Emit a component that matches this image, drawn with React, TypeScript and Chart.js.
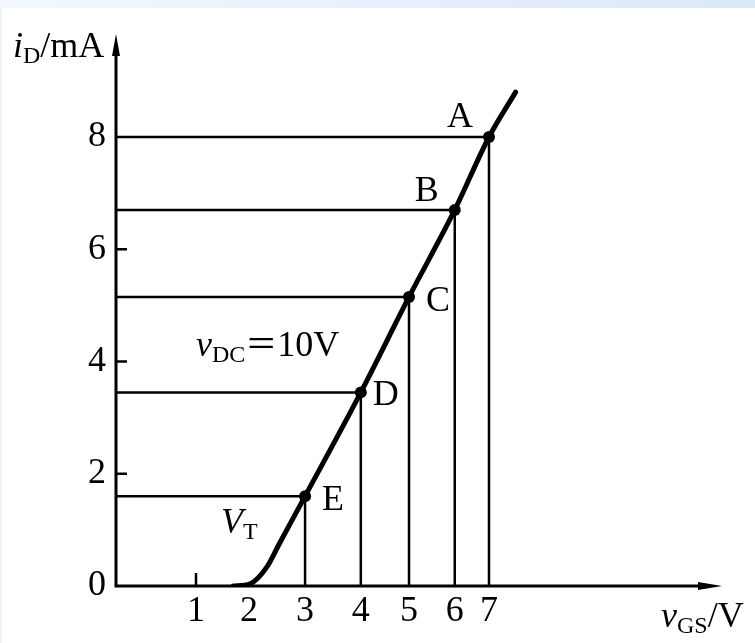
import React, { useEffect, useRef } from 'react';
import { Chart, LinearScale, registerables } from 'chart.js';

const SERIF = "'Liberation Serif', 'Times New Roman', serif";
const CJK = "'Noto Sans CJK SC', sans-serif";

// Operating points marked on the transfer characteristic
const pointNames = ['A', 'B', 'C', 'D', 'E'];
const pointVgs = [7, 6, 5, 4, 3];
const pointId = [8, 6.7, 5.15, 3.45, 1.6];

// Transfer curve i_D(v_GS), leaving the axis at the threshold V_T
const curveVgs = [1.7, 2.02, 2.32, 2.55, 3, 4, 5, 6, 7, 7.8];
const curveId = [0, 0.04, 0.34, 0.77, 1.6, 3.45, 5.15, 6.7, 8, 8.8];

// Axis tick labels and the short tick marks drawn inside the axes
const xTicks = [1, 2, 3, 4, 5, 6, 7];
const yTicks = [0, 2, 4, 6, 8];
const xMarks = [1];
const yMarks = [2, 4, 6];

// Linear scale whose value->pixel mapping is piecewise linear between knots
class PiecewiseScale extends LinearScale {
  static id = 'piecewise';
  static defaults = LinearScale.defaults;

  knotList(): number[][] {
    return (this.options as any).knots;
  }
  valueToDecimal(v: number): number {
    const k = this.knotList();
    let i = 1;
    while (i < k.length - 1 && v > k[i][0]) i++;
    const a = k[i - 1];
    const b = k[i];
    return a[1] + ((v - a[0]) * (b[1] - a[1])) / (b[0] - a[0]);
  }
  decimalToValue(d: number): number {
    const k = this.knotList();
    let i = 1;
    while (i < k.length - 1 && d > k[i][1]) i++;
    const a = k[i - 1];
    const b = k[i];
    return a[0] + ((d - a[1]) * (b[0] - a[0])) / (b[1] - a[1]);
  }
  getPixelForValue(value: number): number {
    if (value === null || value === undefined || isNaN(value)) return NaN;
    return this.getPixelForDecimal(this.valueToDecimal(value));
  }
  getValueForPixel(pixel: number): number {
    return this.decimalToValue(this.getDecimalForPixel(pixel));
  }
}

Chart.register(...registerables, PiecewiseScale);

type Run = { t: string; font: string; dy?: number };

function drawRuns(ctx: CanvasRenderingContext2D, x: number, y: number, runs: Run[]) {
  let cx = x;
  for (const r of runs) {
    ctx.font = r.font;
    ctx.fillText(r.t, cx, y + (r.dy || 0));
    cx += ctx.measureText(r.t).width;
  }
}

const MAIN = `36px ${SERIF}`;
const ITALIC = `italic 36px ${SERIF}`;
const SUB = `24px ${SERIF}`;

const labelOffsets: Record<string, [number, number]> = {
  A: [-29, -10],
  B: [-28, -9],
  C: [29, 14],
  D: [25, 13],
  E: [28, 14],
};

const decor = {
  id: 'decor',
  beforeDraw(chart: any) {
    const { ctx, width, height } = chart;
    ctx.save();
    ctx.fillStyle = '#ffffff';
    ctx.fillRect(0, 0, width, height);
    const g = ctx.createLinearGradient(0, 0, width, 0);
    g.addColorStop(0, '#f3f7fe');
    g.addColorStop(1, '#dbe8fa');
    ctx.fillStyle = g;
    ctx.fillRect(0, 0, width, 8);
    ctx.fillStyle = '#edf3fd';
    ctx.fillRect(0, 8, 2, height - 8);
    ctx.restore();
  },
  afterDraw(chart: any) {
    const { ctx, chartArea: a, scales } = chart;
    const xs = scales.x;
    const ys = scales.y;
    ctx.save();
    ctx.strokeStyle = '#000';
    ctx.fillStyle = '#000';

    // axes
    ctx.lineWidth = 3;
    ctx.beginPath();
    ctx.moveTo(a.left, a.bottom + 1.5);
    ctx.lineTo(a.left, a.top + 12);
    ctx.moveTo(a.left - 1.5, a.bottom);
    ctx.lineTo(a.right - 12, a.bottom);
    ctx.stroke();

    // arrowheads
    ctx.beginPath();
    ctx.moveTo(a.left, a.top - 2);
    ctx.lineTo(a.left + 4, a.top + 20);
    ctx.lineTo(a.left - 4, a.top + 20);
    ctx.closePath();
    ctx.fill();
    ctx.beginPath();
    ctx.moveTo(a.right, a.bottom);
    ctx.lineTo(a.right - 24, a.bottom - 4);
    ctx.lineTo(a.right - 24, a.bottom + 4);
    ctx.closePath();
    ctx.fill();

    // short inward tick marks
    ctx.lineWidth = 2.5;
    ctx.beginPath();
    for (const v of yMarks) {
      const py = ys.getPixelForValue(v);
      ctx.moveTo(a.left, py);
      ctx.lineTo(a.left + 11, py);
    }
    for (const v of xMarks) {
      const px = xs.getPixelForValue(v);
      ctx.moveTo(px, a.bottom);
      ctx.lineTo(px, a.bottom - 13);
    }
    ctx.stroke();

    // point labels
    ctx.font = MAIN;
    ctx.textAlign = 'center';
    ctx.textBaseline = 'alphabetic';
    pointNames.forEach((name, i) => {
      const px = xs.getPixelForValue(pointVgs[i]);
      const py = ys.getPixelForValue(pointId[i]);
      const [dx, dy] = labelOffsets[name];
      ctx.fillText(name, px + dx, py + dy);
    });

    // annotations and axis titles
    ctx.textAlign = 'left';
    drawRuns(ctx, 13, 57, [
      { t: 'i', font: ITALIC },
      { t: 'D', font: SUB, dy: 6 },
      { t: '/mA', font: MAIN },
    ]);
    drawRuns(ctx, 661, 627, [
      { t: 'v', font: ITALIC },
      { t: 'GS', font: SUB, dy: 6 },
      { t: '/V', font: MAIN },
    ]);
    drawRuns(ctx, 196, 356, [
      { t: 'v', font: ITALIC },
      { t: 'DC', font: SUB, dy: 6 },
      { t: '＝', font: `32px ${CJK}`, dy: -1 },
      { t: '10V', font: MAIN },
    ]);
    drawRuns(ctx, 221, 533, [
      { t: 'V', font: ITALIC },
      { t: 'T', font: SUB, dy: 6 },
    ]);
    ctx.restore();
  },
};

export default function App() {
  const canvasRef = useRef<HTMLCanvasElement | null>(null);

  useEffect(() => {
    const canvas = canvasRef.current;
    if (!canvas) return;

    const pointData = pointVgs.map((x, i) => ({ x, y: pointId[i] }));
    const curveData = curveVgs.map((x, i) => ({ x, y: curveId[i] }));
    const guideSets = pointVgs.map((x, i) => ({
      data: [
        { x: 0, y: pointId[i] },
        { x, y: pointId[i] },
        { x, y: 0 },
      ],
      borderColor: '#000',
      borderWidth: 2.5,
      pointRadius: 0,
      tension: 0,
      order: 3,
    }));

    const tickFont = { family: SERIF, size: 36 };

    const chart = new Chart(canvas, {
      type: 'line',
      data: {
        datasets: [
          {
            data: pointData,
            showLine: false,
            pointRadius: 6,
            pointBackgroundColor: '#000',
            pointBorderWidth: 0,
            order: 1,
          },
          {
            data: curveData,
            borderColor: '#000',
            borderWidth: 5,
            pointRadius: 0,
            cubicInterpolationMode: 'monotone',
            borderCapStyle: 'round',
            order: 2,
          },
          ...guideSets,
        ],
      } as any,
      options: {
        responsive: false,
        animation: false,
        devicePixelRatio: 1,
        events: [],
        layout: { padding: { left: 0, right: 33, top: 36, bottom: 0 } },
        plugins: { legend: { display: false }, tooltip: { enabled: false } },
        scales: {
          x: {
            type: 'piecewise',
            knots: [
              [0, 0],
              [1, 0.132],
              [2, 0.2195],
              [3, 0.312],
              [4, 0.404],
              [5, 0.4835],
              [6, 0.559],
              [7, 0.6155],
              [14, 1],
            ],
            min: 0,
            max: 14,
            grid: { display: false, drawTicks: false },
            border: { display: false },
            ticks: {
              font: tickFont,
              color: '#000',
              padding: 4,
              autoSkip: false,
              maxRotation: 0,
              callback: (v: any) => String(v),
            },
            afterBuildTicks: (s: any) => {
              s.ticks = xTicks.map((value) => ({ value }));
            },
            afterFit: (s: any) => {
              s.height = 57;
            },
          },
          y: {
            type: 'linear',
            min: 0,
            max: 9.8,
            grid: { display: false, drawTicks: false },
            border: { display: false },
            ticks: {
              font: tickFont,
              color: '#000',
              padding: 10,
              callback: (v: any) => String(v),
            },
            afterBuildTicks: (s: any) => {
              s.ticks = yTicks.map((value) => ({ value }));
            },
            afterFit: (s: any) => {
              s.width = 116;
            },
          },
        } as any,
      },
      plugins: [decor],
    });

    return () => chart.destroy();
  }, []);

  return (
    <div style={{ position: 'fixed', left: 0, top: 0, width: 755, height: 643 }}>
      <canvas ref={canvasRef} width={755} height={643} style={{ display: 'block' }} />
    </div>
  );
}
